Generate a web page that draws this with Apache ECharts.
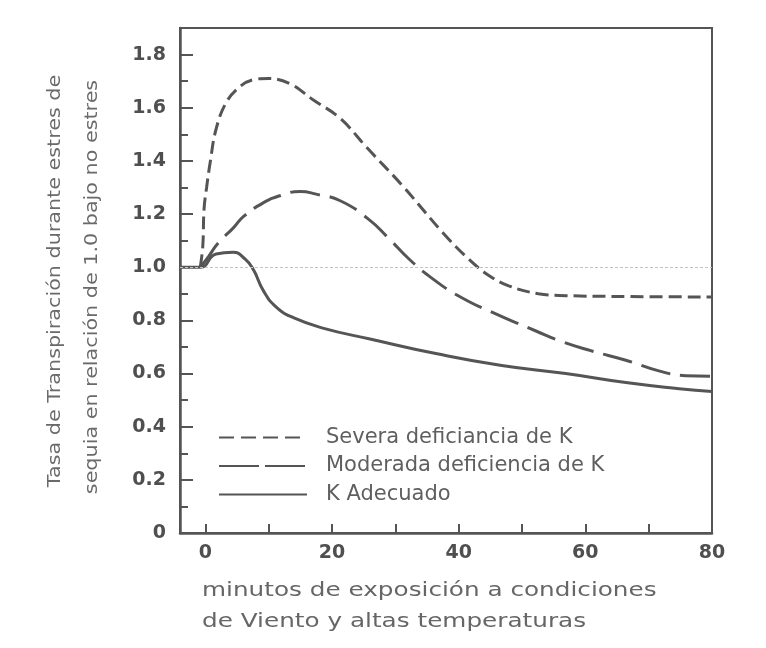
<!DOCTYPE html>
<html>
<head>
<meta charset="utf-8">
<script src="https://cdn.jsdelivr.net/npm/echarts@6/dist/echarts.min.js"></script>
<style>
html,body{margin:0;padding:0;background:#ffffff;}
#chart{width:766px;height:648px;}
</style>
</head>
<body>
<div id="chart"></div>
<script>
// ---- data ----
const seriesNames = ['Severa deficiancia de K', 'Moderada deficiencia de K', 'K Adecuado'];

const severaX = [-0.8, -0.4, -0.2, 0.2, 0.8, 1.7, 3.3, 5.5, 7.5, 10, 13.4, 17, 21.3, 25.5, 31, 37.5, 41.6, 44.7, 47.9, 52.6, 57, 65, 80];
const severaY = [1.0, 1.08, 1.22, 1.30, 1.40, 1.52, 1.62, 1.68, 1.705, 1.71, 1.69, 1.63, 1.56, 1.45, 1.31, 1.13, 1.03, 0.97, 0.93, 0.90, 0.893, 0.89, 0.888];

const moderadaX = [-0.8, 0.5, 2, 4.5, 6, 9, 11.9, 15, 17.5, 21.3, 25.8, 28.9, 32.2, 35.7, 40.5, 46.3, 52.2, 56.3, 61, 66.4, 71.6, 75.9, 80];
const moderadaY = [1.0, 1.04, 1.09, 1.15, 1.19, 1.24, 1.27, 1.285, 1.275, 1.25, 1.18, 1.11, 1.03, 0.96, 0.885, 0.82, 0.76, 0.72, 0.685, 0.65, 0.61, 0.592, 0.59];

const adecuadoX = [-4, -0.8, 1.7, 4.4, 6.3, 7.6, 9.2, 11.2, 13.9, 18.7, 26, 36.4, 46.8, 56.9, 66.4, 74.8, 80];
const adecuadoY = [1.0, 1.0, 1.05, 1.056, 1.03, 0.99, 0.91, 0.85, 0.81, 0.77, 0.73, 0.675, 0.63, 0.60, 0.566, 0.543, 0.532];

const xTickValues = [0, 10, 20, 30, 40, 50, 60, 70, 80];
const xLabelValues = [0, 20, 40, 60, 80];
const yMajorValues = [0, 0.2, 0.4, 0.6, 0.8, 1.0, 1.2, 1.4, 1.6, 1.8];
const yMinorValues = [0.1, 0.3, 0.5, 0.7, 0.9, 1.1, 1.3, 1.5, 1.7];
const referenceLevel = 1.0;

const yTitleLines = ['Tasa de Transpiración durante estres de', 'sequia en relación de 1.0 bajo no estres'];
const xTitleLines = ['minutos de exposición a condiciones', 'de Viento y altas temperaturas'];

// ---- build ----
function pairs(xs, ys) { return xs.map((x, i) => [x, ys[i]]); }

const INK = '#555555';
const chart = echarts.init(document.getElementById('chart'), null, {renderer: 'canvas'});

const labelFont = {fontFamily: 'DejaVu Sans', fontWeight: 'bold', fontSize: 19, color: '#4f4f4f'};

const option = {
  backgroundColor: '#ffffff',
  animation: false,
  color: [INK, INK, INK],
  grid: {
    left: 180, right: 54, top: 28, bottom: 115,
    show: true, borderColor: INK, borderWidth: 2, backgroundColor: 'transparent'
  },
  xAxis: {
    type: 'value', min: -4, max: 80,
    axisLine: {show: true, onZero: false, lineStyle: {color: INK, width: 2.5}},
    axisTick: {show: true, inside: true, length: 9, customValues: xTickValues, lineStyle: {color: INK, width: 2}},
    axisLabel: Object.assign({customValues: xLabelValues, margin: 11}, labelFont),
    splitLine: {show: false}
  },
  yAxis: [
    {
      type: 'value', min: 0, max: 1.9,
      axisLine: {show: true, onZero: false, lineStyle: {color: INK, width: 2.5}},
      axisTick: {show: true, inside: true, length: 13, customValues: yMajorValues, lineStyle: {color: INK, width: 2}},
      axisLabel: Object.assign({customValues: yMajorValues, margin: 14,
        formatter: v => (v === 0 ? '0' : v.toFixed(1))}, labelFont),
      splitLine: {show: false}
    },
    {
      type: 'value', min: 0, max: 1.9, position: 'left', offset: 0,
      axisLine: {show: false, onZero: false},
      axisTick: {show: true, inside: true, length: 8, customValues: yMinorValues, lineStyle: {color: INK, width: 2}},
      axisLabel: {show: false},
      splitLine: {show: false}
    }
  ],
  legend: {
    orient: 'vertical', left: 213, top: 422,
    itemWidth: 88, itemHeight: 14, itemGap: 7.5,
    itemStyle: {color: 'rgba(0,0,0,0)', borderWidth: 0, opacity: 0},
    textStyle: {fontFamily: 'DejaVu Sans', fontSize: 21, color: '#5f5f5f', lineHeight: 20, padding: [0, 0, 0, 14]},
    data: [
      {name: seriesNames[0], lineStyle: {type: [15, 7]}},
      {name: seriesNames[1], lineStyle: {type: [40, 6]}},
      {name: seriesNames[2]}
    ]
  },
  series: [
    {
      name: seriesNames[0], type: 'line', data: pairs(severaX, severaY),
      symbol: 'none', smooth: 0.4,
      itemStyle: {color: INK},
      lineStyle: {color: INK, width: 3, type: [13, 6]}
    },
    {
      name: seriesNames[1], type: 'line', data: pairs(moderadaX, moderadaY),
      symbol: 'none', smooth: 0.5,
      itemStyle: {color: INK},
      lineStyle: {color: INK, width: 3, type: [30, 10]}
    },
    {
      name: seriesNames[2], type: 'line', data: pairs(adecuadoX, adecuadoY),
      symbol: 'none', smooth: 0.5,
      itemStyle: {color: INK},
      lineStyle: {color: INK, width: 3, type: 'solid'},
      markLine: {
        silent: true, symbol: ['none', 'none'], label: {show: false},
        lineStyle: {color: '#c4c4c4', width: 1, type: [3, 2]},
        data: [{yAxis: referenceLevel}]
      }
    }
  ],
  graphic: [
    {type: 'text', x: 55, y: 281, rotation: Math.PI / 2, scaleX: 1.15,
     style: {text: yTitleLines[0], font: '18px "DejaVu Sans"', fill: '#6a6a6a', textAlign: 'center', textVerticalAlign: 'middle'}},
    {type: 'text', x: 92, y: 287, rotation: Math.PI / 2, scaleX: 1.15,
     style: {text: yTitleLines[1], font: '18px "DejaVu Sans"', fill: '#6a6a6a', textAlign: 'center', textVerticalAlign: 'middle'}},
    {type: 'text', x: 202, y: 591, scaleX: 1.3,
     style: {text: xTitleLines[0], font: '19px "DejaVu Sans"', fill: '#666666', textAlign: 'left', textVerticalAlign: 'middle'}},
    {type: 'text', x: 202, y: 622, scaleX: 1.3,
     style: {text: xTitleLines[1], font: '19px "DejaVu Sans"', fill: '#666666', textAlign: 'left', textVerticalAlign: 'middle'}}
  ]
};
chart.setOption(option);
</script>
</body>
</html>
